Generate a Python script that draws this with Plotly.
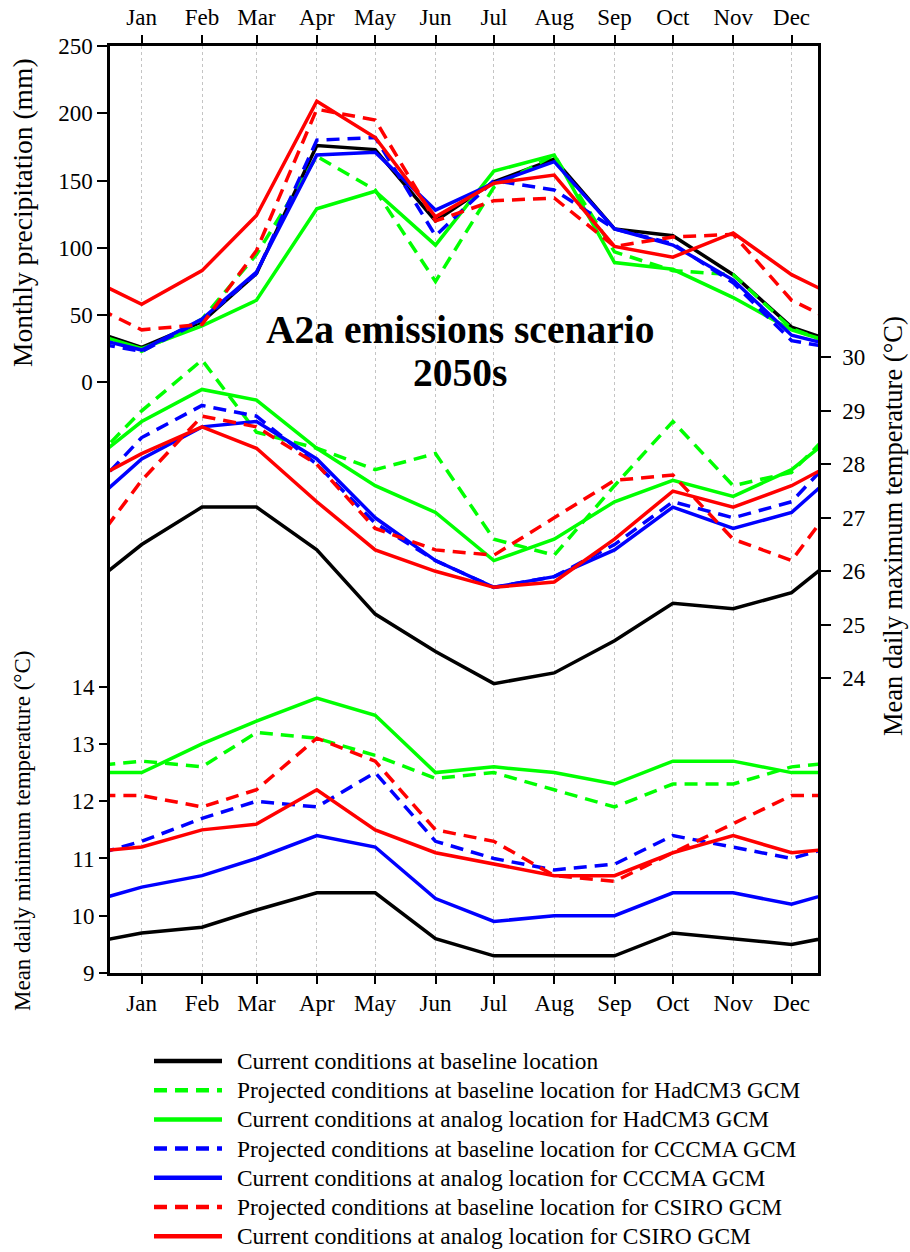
import datetime as dt
import plotly.graph_objects as go

# ---- data -------------------------------------------------------------
months = ["Jan", "Feb", "Mar", "Apr", "May", "Jun",
          "Jul", "Aug", "Sep", "Oct", "Nov", "Dec"]

series_names = [
    "Current conditions at baseline location",
    "Projected conditions at baseline location for HadCM3 GCM",
    "Current conditions at analog location for HadCM3 GCM",
    "Projected conditions at baseline location for CCCMA GCM",
    "Current conditions at analog location for CCCMA GCM",
    "Projected conditions at baseline location for CSIRO GCM",
    "Current conditions at analog location for CSIRO GCM",
]

# Monthly precipitation (mm)
precip_current_baseline = [26, 45, 81, 176, 173, 120, 149, 166, 114, 109, 80, 41]
precip_hadcm3_projected = [23, 47, 95, 168, 143, 75, 145, 169, 97, 83, 80, 40]
precip_hadcm3_analog = [25, 42, 61, 129, 142, 102, 157, 169, 89, 84, 63, 39]
precip_cccma_projected = [23, 46, 81, 180, 182, 109, 150, 143, 114, 103, 74, 31]
precip_cccma_analog = [24, 47, 82, 169, 171, 128, 148, 164, 114, 102, 76, 35]
precip_csiro_projected = [39, 43, 98, 203, 195, 120, 135, 137, 101, 108, 110, 61]
precip_csiro_analog = [58, 83, 124, 209, 182, 123, 148, 154, 101, 93, 111, 80]

# Mean daily maximum temperature (degC)
tmax_current_baseline = [26.5, 27.2, 27.2, 26.4, 25.2, 24.5, 23.9, 24.1, 24.7, 25.4, 25.3, 25.6]
tmax_hadcm3_projected = [29.0, 29.95, 28.6, 28.3, 27.9, 28.2, 26.6, 26.3, 27.6, 28.8, 27.6, 27.85]
tmax_hadcm3_analog = [28.8, 29.4, 29.2, 28.3, 27.6, 27.1, 26.2, 26.6, 27.3, 27.7, 27.4, 27.9]
tmax_cccma_projected = [28.5, 29.1, 28.9, 28.0, 26.9, 26.2, 25.7, 25.9, 26.5, 27.3, 27.0, 27.3]
tmax_cccma_analog = [28.1, 28.7, 28.8, 28.1, 27.0, 26.2, 25.7, 25.9, 26.4, 27.2, 26.8, 27.1]
tmax_csiro_projected = [27.7, 28.9, 28.7, 28.0, 26.8, 26.4, 26.3, 27.0, 27.7, 27.8, 26.6, 26.2]
tmax_csiro_analog = [28.2, 28.7, 28.3, 27.3, 26.4, 26.0, 25.7, 25.8, 26.6, 27.5, 27.2, 27.6]

# Mean daily minimum temperature (degC)
tmin_current_baseline = [9.7, 9.8, 10.1, 10.4, 10.4, 9.6, 9.3, 9.3, 9.3, 9.7, 9.6, 9.5]
tmin_hadcm3_projected = [12.7, 12.6, 13.2, 13.1, 12.8, 12.4, 12.5, 12.2, 11.9, 12.3, 12.3, 12.6]
tmin_hadcm3_analog = [12.5, 13.0, 13.4, 13.8, 13.5, 12.5, 12.6, 12.5, 12.3, 12.7, 12.7, 12.5]
tmin_cccma_projected = [11.3, 11.7, 12.0, 11.9, 12.5, 11.3, 11.0, 10.8, 10.9, 11.4, 11.2, 11.0]
tmin_cccma_analog = [10.5, 10.7, 11.0, 11.4, 11.2, 10.3, 9.9, 10.0, 10.0, 10.4, 10.4, 10.2]
tmin_csiro_projected = [12.1, 11.9, 12.2, 13.1, 12.7, 11.5, 11.3, 10.7, 10.6, 11.1, 11.6, 12.1]
tmin_csiro_analog = [11.2, 11.5, 11.6, 12.2, 11.5, 11.1, 10.9, 10.7, 10.7, 11.1, 11.4, 11.1]

precip_tick_labels = [0, 50, 100, 150, 200, 250]
tmax_tick_labels = [24, 25, 26, 27, 28, 29, 30]
tmin_tick_labels = [9, 10, 11, 12, 13, 14]

# ---- styling ----------------------------------------------------------
GREEN, BLUE, RED, BLACK = "#00ff00", "#0000ff", "#ff0000", "#000000"
colors = [BLACK, GREEN, GREEN, BLUE, BLUE, RED, RED]
dashes = ["solid", "13px,8px", "solid", "13px,8px", "solid", "13px,8px", "solid"]
FONT = "Liberation Serif, Times New Roman, serif"
LINE_W = 3.5

precip_sets = [precip_current_baseline, precip_hadcm3_projected, precip_hadcm3_analog,
               precip_cccma_projected, precip_cccma_analog, precip_csiro_projected,
               precip_csiro_analog]
tmax_sets = [tmax_current_baseline, tmax_hadcm3_projected, tmax_hadcm3_analog,
             tmax_cccma_projected, tmax_cccma_analog, tmax_csiro_projected,
             tmax_csiro_analog]
tmin_sets = [tmin_current_baseline, tmin_hadcm3_projected, tmin_hadcm3_analog,
             tmin_cccma_projected, tmin_cccma_analog, tmin_csiro_projected,
             tmin_csiro_analog]

# Values sit on the 15th of each month; the annual cycle is continued one
# month either side (previous December, following January) so the lines
# run out to the frame edges.
YEAR = 2001
mid_month = [dt.date(YEAR, m, 15) for m in range(1, 13)]
cycle_x = [dt.date(YEAR - 1, 12, 15)] + mid_month + [dt.date(YEAR + 1, 1, 15)]


def cyclic(vals):
    return [vals[-1]] + list(vals) + [vals[0]]


fig = go.Figure()

for block, yax in ((precip_sets, "y"), (tmax_sets, "y2"), (tmin_sets, "y3")):
    for i, vals in enumerate(block):
        fig.add_trace(go.Scatter(
            x=cycle_x, y=cyclic(vals), mode="lines", yaxis=yax,
            name=series_names[i], legendgroup=series_names[i],
            showlegend=False,
            line=dict(color=colors[i], width=LINE_W, dash=dashes[i]),
            hoverinfo="skip",
        ))

# invisible trace so the top month axis is drawn
fig.add_trace(go.Scatter(x=mid_month, y=[None] * 12, xaxis="x2", yaxis="y",
                         mode="lines", showlegend=False, hoverinfo="skip"))

x_range = [dt.datetime(YEAR - 1, 12, 29, 17), dt.datetime(YEAR, 12, 28, 14)]
tick_font = dict(family=FONT, size=23, color="black")
month_axis = dict(
    type="date", range=x_range, tickvals=mid_month, ticktext=months,
    ticks="outside", ticklen=8, tickwidth=2, tickcolor="black",
    showline=True, linewidth=2.5, linecolor="black", tickfont=tick_font,
    zeroline=False, automargin=False,
)
y_common = dict(ticks="outside", ticklen=10, tickwidth=2, tickcolor="black",
                showgrid=False, zeroline=False, tickfont=tick_font,
                automargin=False)

fig.update_layout(
    width=910, height=1252,
    margin=dict(l=110, r=92, t=46, b=279),
    paper_bgcolor="white", plot_bgcolor="white",
    font=dict(family=FONT, color="black"),
    xaxis=dict(**month_axis, side="bottom", showgrid=True,
               gridcolor="#c4c4c4", gridwidth=1, griddash="dot"),
    xaxis2=dict(**month_axis, side="top", overlaying="x", matches="x",
                showgrid=False, anchor="y", ticklabelstandoff=1),
    yaxis=dict(range=[-439.1, 250], tickvals=precip_tick_labels,
               showline=True, linewidth=2.5, linecolor="black", **y_common),
    yaxis2=dict(range=[18.49, 35.82], tickvals=tmax_tick_labels,
                overlaying="y", side="right", anchor="x", ticklabelstandoff=7,
                showline=True, linewidth=2.5, linecolor="black", **y_common),
    yaxis3=dict(range=[9, 25.19], tickvals=tmin_tick_labels,
                overlaying="y", side="left", anchor="x",
                showline=False, **y_common),
    showlegend=False,
)


def px_y(ypx):
    """Vertical pixel position (from page top) -> paper coordinate."""
    return (973 - ypx) / 927


def px_x(xpx):
    """Horizontal pixel position (from page left) -> paper coordinate."""
    return (xpx - 110) / 708


axis_title = dict(xref="paper", yref="paper", showarrow=False, textangle=-90,
                  xanchor="center", yanchor="middle")
fig.add_annotation(text="Monthly precipitation (mm)", x=px_x(22), y=px_y(213),
                   font=dict(family=FONT, size=27.5, color="black"), **axis_title)
fig.add_annotation(text="Mean daily minimum temperature (°C)", x=px_x(22), y=px_y(831),
                   font=dict(family=FONT, size=23, color="black"), **axis_title)
fig.add_annotation(text="Mean daily maximum temperature (°C)", x=px_x(893), y=px_y(526),
                   font=dict(family=FONT, size=26.5, color="black"), **axis_title)

scen = dict(xref="paper", yref="paper", showarrow=False, xanchor="center",
            yanchor="middle", font=dict(family=FONT, size=39.5, color="black"))
fig.add_annotation(text="<b>A2a emissions scenario</b>", x=px_x(460), y=px_y(330), **scen)
fig.add_annotation(text="<b>2050s</b>", x=px_x(460), y=px_y(373), **scen)

# Key below the frame: one sample line and label per series
KEY_TOP, KEY_STEP = 1061, 29.2
for i, name in enumerate(series_names):
    row_y = px_y(KEY_TOP + i * KEY_STEP)
    fig.add_shape(type="line", xref="paper", yref="paper",
                  x0=px_x(154), x1=px_x(222), y0=row_y, y1=row_y,
                  line=dict(color=colors[i], width=4.5, dash=dashes[i]))
    fig.add_annotation(text=name, xref="paper", yref="paper",
                       x=px_x(235), y=row_y, xanchor="left", yanchor="middle",
                       showarrow=False,
                       font=dict(family=FONT, size=23.4, color="black"))

fig.write_html("out.html")
